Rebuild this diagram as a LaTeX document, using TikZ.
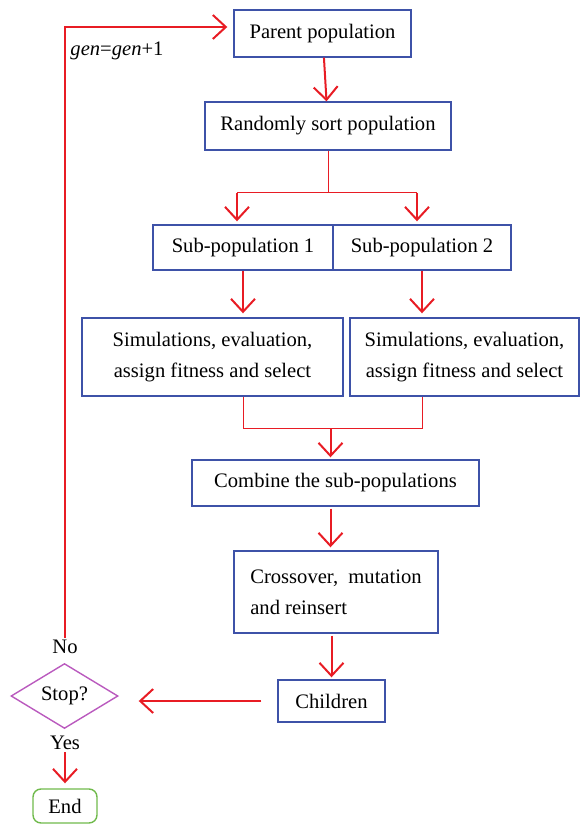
\documentclass[tikz,border=0pt]{standalone}
\usepackage{fontspec}
\setmainfont{Liberation Serif}
\usetikzlibrary{arrows.meta}
\usetikzlibrary{shapes.geometric}
\usetikzlibrary{positioning}
\definecolor{boxblue}{RGB}{62,82,168}
\definecolor{flowred}{RGB}{232,28,36}
\definecolor{stopviolet}{RGB}{186,90,190}
\definecolor{endgreen}{RGB}{112,186,76}

\begin{document}
\begin{tikzpicture}[x=0.5pt,y=-0.5pt]
	\useasboundingbox (0,0) rectangle (580,824);
	\begin{scope}[every node/.style={rectangle, draw=boxblue, line width=0.7pt, inner sep=0pt,
	              font=\fontsize{10.3}{15.5}\selectfont}]
		\node[minimum width=88.5pt, minimum height=23.5pt] (parent) at (322.5,33.5) {Parent population};
		\node[minimum width=123pt, minimum height=24pt] (sort) at (328,126) {Randomly sort population};
		\node[minimum width=90pt, minimum height=22.5pt] (sub1) at (243,247.5) {Sub-population 1};
		\node[minimum width=89pt, minimum height=22.5pt] (sub2) at (422,247.5) {Sub-population 2};
		\node[minimum width=130.5pt, minimum height=39pt, align=center] (sim1) at (212.5,357)
			{Simulations, evaluation,\\assign fitness and select};
		\node[minimum width=114.5pt, minimum height=39pt, align=center] (sim2) at (464.5,357)
			{Simulations, evaluation,\\assign fitness and select};
		\node[minimum width=143.5pt, minimum height=23pt] (combine) at (335.5,483) {Combine the sub-populations};
		\node[minimum width=102pt, minimum height=41pt, align=left] (cross) at (336,592)
			{Crossover,~ mutation\\and reinsert};
		\node[minimum width=53.5pt, minimum height=21pt] (children) at (331.5,701) {Children};
		\node[diamond, draw=stopviolet, minimum width=53.5pt, minimum height=31pt] (stop) at (64.5,696) {Stop?};
		\node[draw=endgreen, rounded corners=4pt, minimum width=32pt, minimum height=17pt] (end) at (65,806) {End};
	\end{scope}

	\begin{scope}[every node/.style={inner sep=1pt, font=\fontsize{10.3}{12}\selectfont}]
		\node (no) at (65,647) {No};
		\node (yes) at (65,743) {Yes};
		\node (gen) at (117,51) {\textit{gen}=\textit{gen}+1};
	\end{scope}

	\coordinate (split) at ([yshift=-21pt]sort.south);

	\begin{scope}[>={Straight Barb[length=6.5pt,width=12pt]},
	              every path/.style={draw=flowred},
	              arr/.style={->, line width=1pt},
	              thinline/.style={line width=0.5pt}]
		% top part
		\path[arr] (parent) edge (sort);
		\draw[thinline] (sort.south) -- (split);
		\draw[thinline] ([xshift=-3pt]sub1.north |- split) -- ([xshift=-2.5pt]sub2.north |- split);
		\draw[arr] ([xshift=-3pt]sub1.north |- split) -- ([xshift=-3pt,yshift=1.5pt]sub1.north);
		\draw[arr] ([xshift=-2.5pt]sub2.north |- split) -- ([xshift=-2.5pt,yshift=1.5pt]sub2.north);
		\draw[arr, shorten >=2pt] (sub1.south) -- (sub1.south |- sim1.north);
		\draw[arr, shorten >=2pt] (sub2.south) -- (sub2.south |- sim2.north);
		% merge
		\draw[thinline] (sub1.south |- sim1.south) -- ++(0,-16pt) coordinate (m1)
			-| (sub2.south |- sim2.south);
		\draw[arr, shorten >=1pt] ([xshift=-2.5pt]combine.north |- m1) -- ([xshift=-2.5pt]combine.north);
		\draw[arr, shorten <=1pt, shorten >=1.5pt] ([xshift=-2.5pt]combine.south) -- ([xshift=-2.5pt]combine.south |- cross.north);
		\draw[arr, shorten <=1pt, shorten >=1pt] (children.north |- cross.south) -- (children.north);
		% loop back
		\draw[arr, shorten <=8pt, shorten >=10pt] (children.west) -- (children.west -| stop.east);
		\draw[arr, shorten >=3pt] (no.north) |- ([yshift=3.25pt]parent.west);
		\draw[arr, shorten >=2.5pt] (yes.south) -- (end.north);
	\end{scope}
\end{tikzpicture}
\end{document}
